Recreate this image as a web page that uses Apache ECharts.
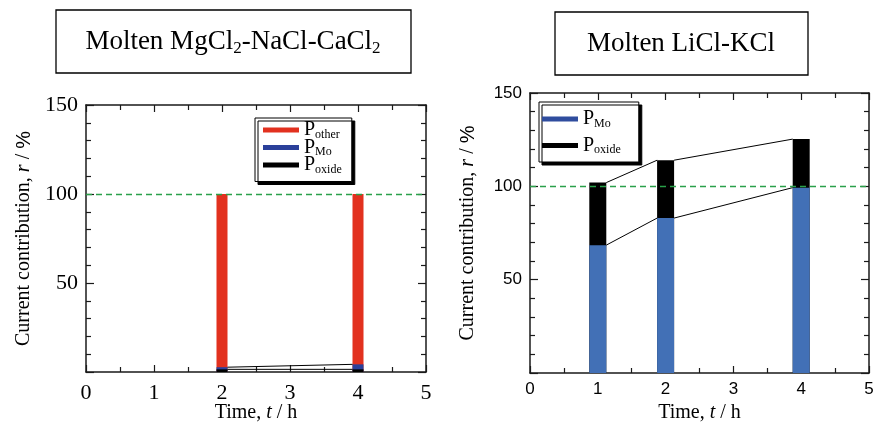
<!DOCTYPE html>
<html lang="en">
<head>
<meta charset="UTF-8">
<title>Current contribution</title>
<script src="https://cdn.jsdelivr.net/npm/echarts@6/dist/echarts.min.js"></script>
<style>
  html, body { margin: 0; padding: 0; background: #fff; }
  #main { width: 878px; height: 427px; }
</style>
</head>
<body>
<div id="main"></div>
<script type="text/javascript">
// left panel: molten MgCl2-NaCl-CaCl2
var timeA = [2, 4];
var oxideA = [1.5, 1.5];
var moA = [1.2, 2.8];
var otherA = [97.3, 95.7];

// right panel: molten LiCl-KCl
var timeB = [1, 2, 4];
var moB = [68.5, 83, 99.3];
var oxideB = [33.5, 31, 26];

var xTicks = ['0', '1', '2', '3', '4', '5'];

var SERIF = '"Liberation Serif", "Times New Roman", serif';
var SANS = '"Liberation Sans", Arial, sans-serif';

var myChart = echarts.init(document.getElementById('main'));

// connector lines from right edge of one bar to left edge of the next
function connectors(times, tops, hw) {
    var out = [];
    for (var i = 0; i < times.length - 1; i++) {
        if (i > 0) out.push('-');
        out.push([times[i] + hw, tops[i]]);
        out.push([times[i + 1] - hw, tops[i + 1]]);
    }
    return out;
}
function sum(a, b) {
    return a.map(function (v, i) { return v + b[i]; });
}
function pairs(t, v) {
    return t.map(function (x, i) { return [x, v[i]]; });
}

// stacked tops (bars are overlapped, tallest drawn first)
var lowA = oxideA;
var midA = sum(oxideA, moA);
var topA = sum(midA, otherA);
var topB = sum(moB, oxideB);

function xAx(grid, sans, pos) {
    var bottom = pos === 'bottom';
    return {
        type: 'value', gridIndex: grid, position: pos, min: 0, max: 5, interval: 1,
        axisLine: { show: true, onZero: false, lineStyle: { color: '#1a1a1a', width: 1.5 } },
        axisTick: { show: true, inside: true, length: 7, lineStyle: { color: '#1a1a1a', width: 1.2 } },
        minorTick: { show: true, splitNumber: 2, length: 5, lineStyle: { color: '#1a1a1a', width: 1.2 } },
        splitLine: { show: false },
        axisLabel: {
            show: bottom, margin: sans ? 8 : 10, color: '#000',
            fontFamily: sans ? SANS : SERIF, fontSize: sans ? 17 : 22,
            formatter: function (v) { return xTicks[v]; }
        },
        name: bottom ? '{n|Time, }{i|t}{n| / h}' : '',
        nameLocation: 'middle', nameGap: sans ? 30 : 31, nameMoveOverlap: false,
        nameTextStyle: {
            rich: {
                n: { fontFamily: SERIF, fontSize: 20, color: '#000' },
                i: { fontFamily: SERIF, fontSize: 20, fontStyle: 'italic', color: '#000' }
            }
        }
    };
}
function yAx(grid, sans, pos) {
    var left = pos === 'left';
    return {
        type: 'value', gridIndex: grid, position: pos, min: 0, max: 150, interval: 50,
        axisLine: { show: true, onZero: false, lineStyle: { color: '#1a1a1a', width: 1.5 } },
        axisTick: { show: true, inside: true, length: 8, lineStyle: { color: '#1a1a1a', width: 1.2 } },
        minorTick: { show: true, splitNumber: 5, length: 5, lineStyle: { color: '#1a1a1a', width: 1.2 } },
        splitLine: { show: false },
        axisLabel: {
            show: left, margin: 8, color: '#000',
            fontFamily: sans ? SANS : SERIF, fontSize: sans ? 17 : 22,
            formatter: function (v) { return v === 0 ? '' : String(v); }
        },
        name: left ? '{n|Current contribution, }{i|r}{n| / }{s|%}' : '',
        nameLocation: 'middle', nameGap: 52, nameRotate: 90,
        nameTextStyle: {
            rich: {
                n: { fontFamily: SERIF, fontSize: 20, color: '#000' },
                i: { fontFamily: SERIF, fontSize: 20, fontStyle: 'italic', color: '#000' },
                s: { fontFamily: SANS, fontSize: 20, color: '#000' }
            }
        }
    };
}

var legendRich = {
    p: { fontFamily: SERIF, fontSize: 20, color: '#000' },
    s: { fontFamily: SERIF, fontSize: 12, color: '#000', verticalAlign: 'bottom', padding: [9, 0, 0, 0] }
};
var legendNames = { Pother: '{p|P}{s|other}', PMo: '{p|P}{s|Mo}', Poxide: '{p|P}{s|oxide}' };

var refLine = {
    silent: true, symbol: 'none', label: { show: false },
    lineStyle: { color: '#2aa04a', type: [6, 4], width: 1.3 },
    data: [{ yAxis: 100 }]
};

function bar(name, xi, w, color, data, extra) {
    var s = {
        name: name, type: 'bar', xAxisIndex: xi, yAxisIndex: xi, barWidth: w, barGap: '-100%',
        itemStyle: { color: color }, data: data
    };
    if (extra) s.markLine = extra;
    return s;
}
function conn(xi, data) {
    return {
        type: 'line', xAxisIndex: xi, yAxisIndex: xi, symbol: 'none', z: 3,
        lineStyle: { color: '#000', width: 1 }, data: data
    };
}

option = {
    animation: false,
    backgroundColor: '#fff',
    graphic: [
        { type: 'rect', shape: { x: 56, y: 10, width: 355, height: 63 },
          style: { fill: '#fff', stroke: '#000', lineWidth: 1.3 } },
        { type: 'text', x: 233, y: 42,
          style: {
              text: '{t|Molten MgCl}{s|2}{t|-NaCl-CaCl}{s|2}',
              align: 'center', verticalAlign: 'middle',
              rich: {
                  t: { fontFamily: SERIF, fontSize: 27, fill: '#000' },
                  s: { fontFamily: SERIF, fontSize: 17, fill: '#000', verticalAlign: 'bottom', padding: [14, 0, 0, 0] }
              }
          } },
        { type: 'rect', shape: { x: 555, y: 12, width: 253, height: 63 },
          style: { fill: '#fff', stroke: '#000', lineWidth: 1.3 } },
        { type: 'text', x: 681, y: 44,
          style: {
              text: 'Molten LiCl-KCl', align: 'center', verticalAlign: 'middle',
              fontFamily: SERIF, fontSize: 27, fill: '#000'
          } }
    ],
    legend: [{
        orient: 'vertical', left: 255, top: 118, width: 97,
        data: [
            { name: 'Pother', itemStyle: { color: '#e2311f' } },
            { name: 'PMo', itemStyle: { color: '#2b409a' } },
            { name: 'Poxide', itemStyle: { color: '#000' } }
        ],
        icon: 'rect', itemWidth: 36, itemHeight: 5, itemGap: -3,
        padding: [2, 10, 6, 8],
        backgroundColor: '#fff', borderColor: '#000', borderWidth: 1,
        shadowColor: '#000', shadowOffsetX: 3, shadowOffsetY: 3, shadowBlur: 0,
        formatter: function (n) { return legendNames[n]; },
        textStyle: { rich: legendRich }
    }, {
        orient: 'vertical', left: 539, top: 102,
        data: [
            { name: 'PMo ', itemStyle: { color: '#2f4d9e' } },
            { name: 'Poxide ', itemStyle: { color: '#000' } }
        ],
        icon: 'rect', itemWidth: 36, itemHeight: 5, itemGap: 6,
        padding: [7, 18, 6, 3],
        backgroundColor: '#fff', borderColor: '#000', borderWidth: 1,
        shadowColor: '#000', shadowOffsetX: 3, shadowOffsetY: 3, shadowBlur: 0,
        formatter: function (n) { return legendNames[n.trim()]; },
        textStyle: { rich: legendRich }
    }],
    grid: [
        { left: 86, top: 105, width: 340, height: 267, outerBoundsMode: 'none', containLabel: false },
        { left: 530, top: 93, width: 339, height: 280, outerBoundsMode: 'none', containLabel: false }
    ],
    xAxis: [xAx(0, false, 'bottom'), xAx(0, false, 'top'), xAx(1, true, 'bottom'), xAx(1, true, 'top')],
    yAxis: [yAx(0, false, 'left'), yAx(0, false, 'right'), yAx(1, true, 'left'), yAx(1, true, 'right')],
    series: [
        // left panel
        bar('Pother', 0, 11, '#e2311f', pairs(timeA, topA), refLine),
        bar('PMo', 0, 11, '#2b409a', pairs(timeA, midA)),
        bar('Poxide', 0, 11, '#000', pairs(timeA, lowA)),
        conn(0, connectors(timeA, lowA, 0.08)),
        conn(0, connectors(timeA, midA, 0.08)),
        // right panel
        bar('Poxide ', 2, 17, '#000', pairs(timeB, topB), refLine),
        bar('PMo ', 2, 17, '#4270b6', pairs(timeB, moB)),
        conn(2, connectors(timeB, moB, 0.125)),
        conn(2, connectors(timeB, topB, 0.125))
    ]
};

myChart.setOption(option);
</script>
</body>
</html>
